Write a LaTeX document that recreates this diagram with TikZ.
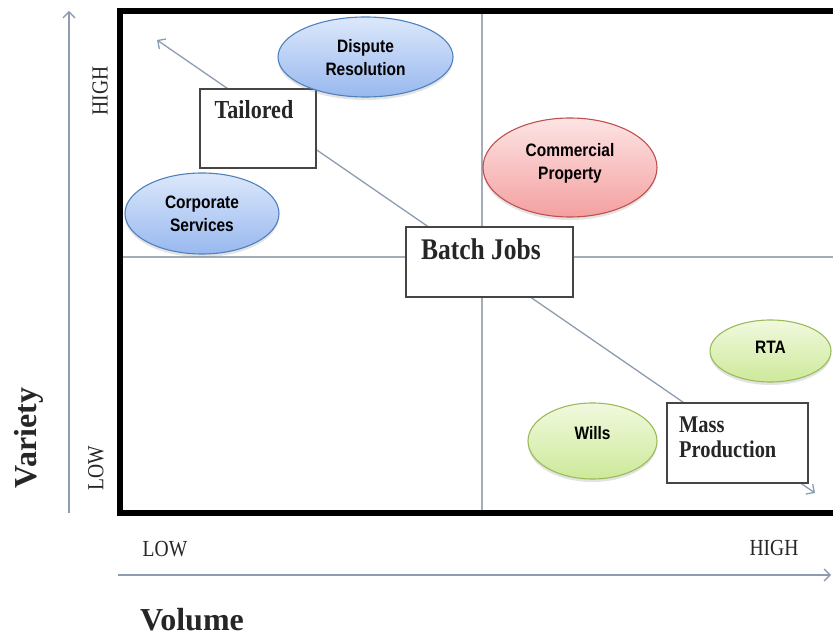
\documentclass[tikz,border=0pt]{standalone}
\usepackage{fontspec}
\setmainfont{Liberation Serif}
\setsansfont{Liberation Sans}
\newfontfamily\narrowserif{Liberation Serif}[FakeStretch=0.85]
\newfontfamily\narrowsans{Liberation Sans}[FakeStretch=0.86]
\usetikzlibrary{arrows.meta,shapes.geometric,shadows}

\definecolor{gridline}{HTML}{A3ADBA}
\definecolor{axisline}{HTML}{8E9CB0}
\definecolor{boxline}{HTML}{454545}
\definecolor{blueTop}{HTML}{DCE8FB}
\definecolor{blueBot}{HTML}{98B8EF}
\definecolor{blueEdge}{HTML}{4F81BD}
\definecolor{redTop}{HTML}{FDE4E4}
\definecolor{redBot}{HTML}{F4A0A0}
\definecolor{redEdge}{HTML}{C0504D}
\definecolor{greenTop}{HTML}{F1F9DE}
\definecolor{greenBot}{HTML}{CDE99A}
\definecolor{greenEdge}{HTML}{9BBB59}

\tikzset{
  gridln/.style={draw=gridline, line width=1.6pt},
  barb/.style={Straight Barb[length=6pt,width=12pt]},
  axisarrow/.style={draw=axisline, line width=1.3pt, -{Straight Barb[length=6pt,width=12pt]}},
  stagebox/.style={draw=boxline, line width=1.5pt, fill=white, rectangle, inner sep=0pt},
  stagetext/.style={inner sep=0pt, text=black!85, anchor=base},
  blob/.style={ellipse, inner sep=0pt, line width=1.1pt,
    drop shadow={opacity=0.22, shadow xshift=0pt, shadow yshift=-3pt}},
  blueblob/.style={blob, draw=blueEdge, top color=blueTop, bottom color=blueBot},
  redblob/.style={blob, draw=redEdge, top color=redTop, bottom color=redBot},
  greenblob/.style={blob, draw=greenEdge, top color=greenTop, bottom color=greenBot},
  blobtext/.style={font=\narrowsans\bfseries\fontsize{18}{22}\selectfont, inner sep=0pt, anchor=base},
  scale label/.style={font=\narrowserif\fontsize{23}{26}\selectfont, inner sep=0pt, text=black!85},
  axis title/.style={font=\bfseries\fontsize{32}{36}\selectfont, inner sep=0pt, text=black!85}
}

\begin{document}
\begin{tikzpicture}[x=1pt, y=-1pt]
  \useasboundingbox (0,0) rectangle (833,636);
  \clip (0,0) rectangle (833,636);
  \fill[white] (0,0) rectangle (833,636);

  % quadrant dividers
  \draw[gridln] (482,11) -- (482,513);
  \draw[gridln] (120,257) -- (840,257);

  % the diagonal running from tailored work to mass production
  \coordinate (hiend) at (157,40);
  \coordinate (loend) at (815,493);
  \draw[draw=axisline, line width=1.3pt,
        {Straight Barb[length=6pt,width=12pt]}-{Straight Barb[length=6pt,width=12pt]}]
        (loend) -- (hiend);

  % heavy frame, open to the right
  \draw[line width=6pt, line join=miter] (845,11.5) -- (120,11.5) -- (120,513) -- (845,513);

  % axes outside the frame
  \coordinate (vbot) at (69,513);
  \coordinate (vtop) at (69,11);
  \draw[axisarrow] (vbot) -- (vtop);
  \coordinate (hleft) at (118,575);
  \coordinate (hright) at (831,575);
  \draw[axisarrow] (hleft) -- (hright);

  \node[scale label, rotate=90] (vhigh) at (100,91) {HIGH};
  \node[scale label, rotate=90] (vlow) at (96,468) {LOW};
  \node[axis title, rotate=90] (variety) at (29,438) {Variety};
  \node[scale label, anchor=base] (hlow) at (165,556) {LOW};
  \node[scale label, anchor=base] (hhigh) at (774,555) {HIGH};
  \node[axis title, anchor=base] (volume) at (192,630) {Volume};

  % process types
  \node[stagebox, minimum width=116pt, minimum height=79pt] (tailored) at (258,128.5) {};
  \node[stagetext, font=\narrowserif\bfseries\fontsize{26}{30}\selectfont] (tailoredtxt) at (254,119) {Tailored};

  \node[stagebox, minimum width=167pt, minimum height=70pt] (batch) at (489.5,262) {};
  \node[stagetext, font=\narrowserif\bfseries\fontsize{30}{34}\selectfont] (batchtxt) at (481,260) {Batch Jobs};

  \node[stagebox, minimum width=141pt, minimum height=80pt] (mass) at (737.5,443) {};
  \node[stagetext, anchor=base west, font=\narrowserif\bfseries\fontsize{24}{28}\selectfont]
       (masstxtA) at (679,432) {Mass};
  \node[stagetext, anchor=base west, font=\narrowserif\bfseries\fontsize{24}{28}\selectfont]
       (masstxtB) at (679,457) {Production};

  % practice areas
  \node[blueblob, minimum width=175pt, minimum height=80pt] (dispute) at (365.5,57) {};
  \node[blobtext] (disputeA) at (365.5,53) {Dispute};
  \node[blobtext] (disputeB) at (365.5,76) {Resolution};

  \node[blueblob, minimum width=154pt, minimum height=81pt] (corporate) at (202,213.5) {};
  \node[blobtext] (corporateA) at (202,209) {Corporate};
  \node[blobtext] (corporateB) at (202,232) {Services};

  \node[redblob, minimum width=174pt, minimum height=99pt] (commercial) at (570,167.5) {};
  \node[blobtext] (commercialA) at (570,157) {Commercial};
  \node[blobtext] (commercialB) at (570,179.5) {Property};

  \node[greenblob, minimum width=121pt, minimum height=62pt] (rta) at (770.5,351) {};
  \node[blobtext] (rtatxt) at (770.5,354) {RTA};

  \node[greenblob, minimum width=129pt, minimum height=76pt] (wills) at (592.5,441) {};
  \node[blobtext] (willstxt) at (592.5,439) {Wills};
\end{tikzpicture}
\end{document}
